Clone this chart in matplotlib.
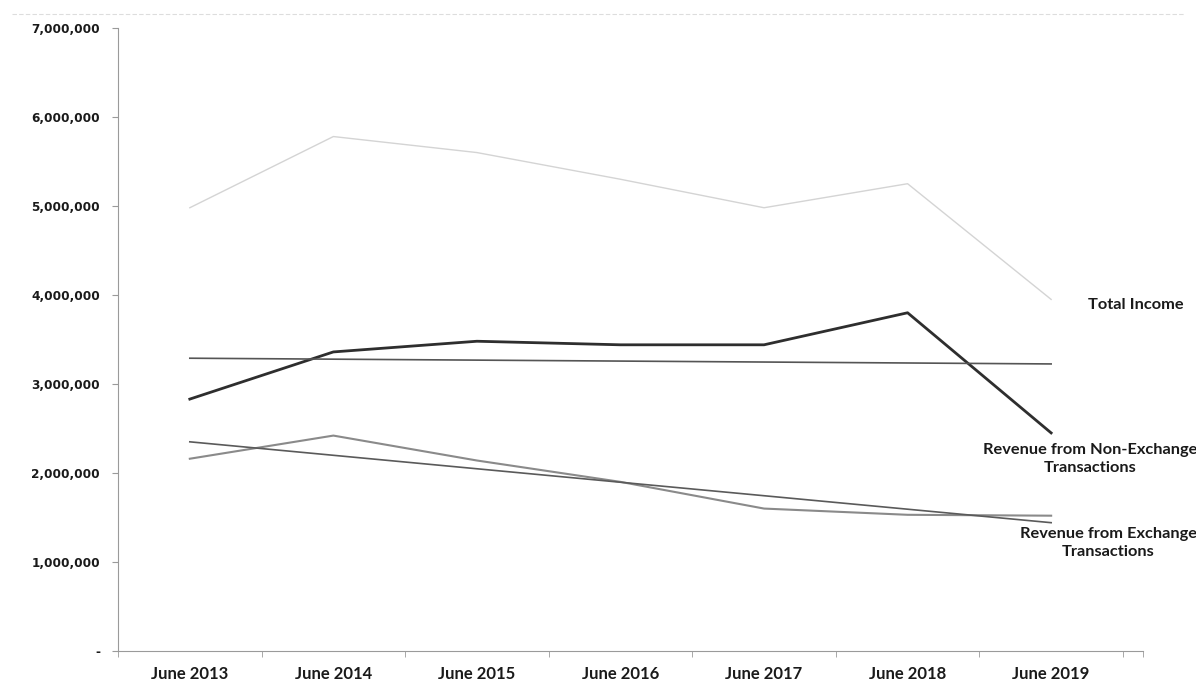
import numpy as np
import matplotlib.pyplot as plt
from matplotlib.ticker import FuncFormatter
from matplotlib.lines import Line2D

years = ["June 2013", "June 2014", "June 2015", "June 2016", "June 2017", "June 2018", "June 2019"]
total_income = [4980000, 5780000, 5600000, 5300000, 4980000, 5250000, 3950000]
non_exchange = [2830000, 3360000, 3480000, 3440000, 3440000, 3800000, 2450000]
exchange = [2160000, 2420000, 2140000, 1900000, 1600000, 1530000, 1520000]

x = np.arange(len(years))

fig = plt.figure(figsize=(11.96, 6.82), dpi=100)
ax = fig.add_axes([0.0987, 0.0455, 0.857, 0.9135])

ax.plot(x, total_income, color="#d4d4d4", lw=1.0)
ax.plot(x, non_exchange, color="#2e2e2e", lw=2.0)
ax.plot(x, exchange, color="#8a8a8a", lw=1.5)

# linear trend lines
for series, col in [(non_exchange, "#555555"), (exchange, "#5a5a5a")]:
    p = np.polyfit(x, series, 1)
    ax.plot(x, np.polyval(p, x), color=col, lw=1.2)

ax.set_xlim(-0.5, 6.64)
ax.set_ylim(0, 7000000)
ax.set_yticks(np.arange(0, 7000001, 1000000))
ax.yaxis.set_major_formatter(FuncFormatter(lambda v, pos: "-" if v == 0 else f"{int(v):,}"))
ax.set_xticks(x)
ax.set_xticklabels(years)
ax.set_xticks(list(np.arange(-0.5, 7, 1)) + [6.64], minor=True)

for s in ["top", "right"]:
    ax.spines[s].set_visible(False)
for s in ["left", "bottom"]:
    ax.spines[s].set_color("#9a9a9a")
    ax.spines[s].set_linewidth(0.8)

ax.tick_params(axis="x", which="major", length=0, pad=11)
ax.tick_params(axis="x", which="minor", length=4, color="#9a9a9a")
ax.tick_params(axis="y", length=4, color="#9a9a9a", pad=9)
for lab in ax.get_yticklabels():
    lab.set_fontfamily("DejaVu Sans")
    lab.set_fontweight("bold")
    lab.set_fontsize(8.7)
    lab.set_color("#1a1a1a")
for lab in ax.get_xticklabels():
    lab.set_fontfamily(["Liberation Sans Narrow", "Lato", "DejaVu Sans"])
    lab.set_fontweight("bold")
    lab.set_fontsize(12)
    lab.set_color("#1a1a1a")

lbl = dict(fontfamily=["Lato", "DejaVu Sans"], fontweight="bold", fontsize=11.8,
           color="#1a1a1a", ha="center", va="center", linespacing=1.35)
ax.text(6.59, 3890000, "Total Income", **lbl)
ax.text(6.27, 2160000, "Revenue from Non-Exchange\nTransactions", **lbl)
ax.text(6.40, 1210000, "Revenue from Exchange\nTransactions", **lbl)

fig.add_artist(Line2D([0.01, 0.99], [0.98, 0.98], color="#dddddd", lw=0.8, ls=(0, (4, 2))))

fig.savefig("out.png", dpi=100)
